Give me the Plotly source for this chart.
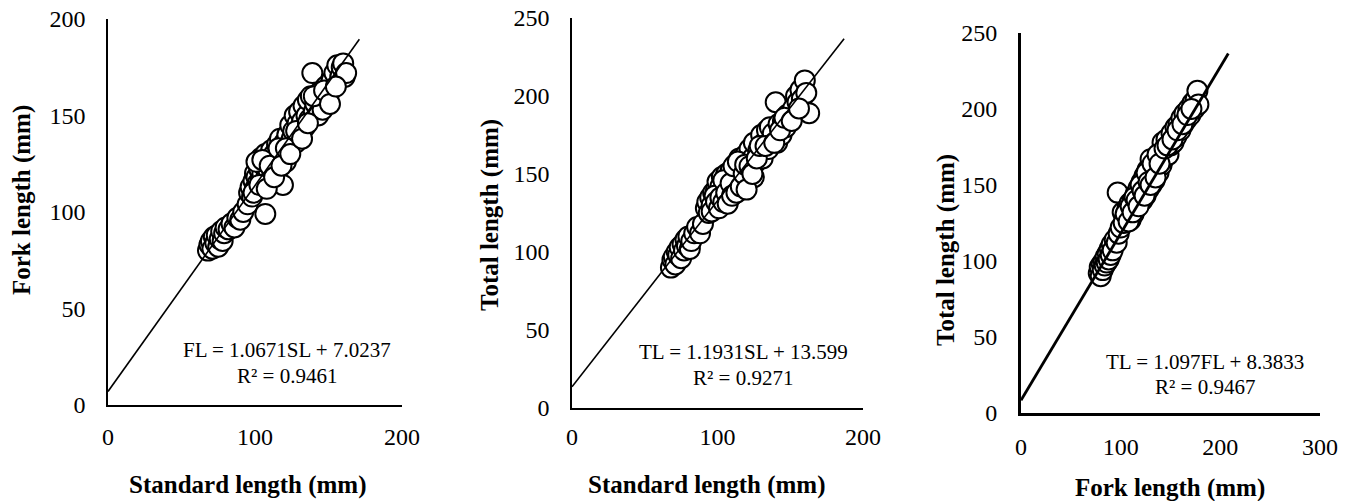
import plotly.graph_objects as go

# page is 1355x501; the html body has an 8px margin, so the figure is drawn
# 8px in from the top-left corner and sized to reach the window's edges
OFF = 8
W, H = 1347, 493

# ---------------- data ----------------
# Panel 1: Standard length (SL) vs Fork length (FL)
sl_1 = [68, 69, 70, 71, 72, 73, 74, 75, 76, 77, 78, 79, 80, 82, 84, 86, 88, 90, 92,
        95, 96, 97, 98, 99, 100, 100, 101, 102, 102, 103, 104, 104, 105, 106, 106, 107, 107,
        108, 108, 109, 110, 110, 111, 112, 112, 113, 114, 115, 115, 116, 117, 118, 119, 120,
        121, 122, 123, 124, 125, 126, 127, 128, 129, 130, 131, 132, 133, 134, 135, 136, 137,
        138, 139, 140, 141, 143, 144, 145, 146, 148, 150, 152, 154, 156, 158, 159, 160, 161, 162,
        99, 101, 103, 105, 108, 110, 113, 116, 118, 121, 124, 128, 132, 136, 140, 147, 151, 155]
fl_1 = [80, 83, 85, 81, 87, 84, 88, 82, 86, 90, 85, 89, 92, 91, 94, 92, 97, 96, 100,
        104, 110, 113, 108, 116, 112, 120, 118, 125, 115, 122, 128, 117, 120, 124, 113, 99, 130,
        119, 126, 122, 128, 116, 132, 124, 120, 130, 126, 135, 122, 128, 138, 132, 114, 136,
        126, 140, 133, 145, 138, 142, 150, 136, 146, 152, 140, 147, 155, 144, 150, 158, 148,
        160, 172, 152, 156, 150, 162, 158, 153, 165, 160, 168, 172, 176, 170, 175, 177, 170, 172,
        110, 126, 114, 127, 112, 124, 118, 133, 124, 133, 130, 142, 138, 146, 160, 163, 156, 165]

# Panel 2: Standard length (SL) vs Total length (TL)
sl_2 = [68, 69, 70, 71, 72, 73, 74, 75, 76, 77, 78, 79, 80, 81, 82, 84, 86, 88, 90,
        92, 93, 94, 95, 96, 97, 98, 99, 100, 100, 101, 102, 103, 103, 104, 105, 105, 106, 107,
        108, 108, 109, 110, 111, 112, 112, 113, 114, 115, 115, 116, 117, 118, 119, 120, 121,
        121, 122, 123, 124, 125, 125, 126, 128, 130, 131, 132, 134, 135, 136, 137, 138, 140,
        141, 142, 144, 145, 147, 148, 150, 152, 154, 155, 157, 158, 160, 161, 163,
        96, 98, 99, 101, 102, 104, 104, 106, 107, 109, 110, 111, 113, 114, 116, 118, 119, 120,
        122, 124, 127, 129, 133, 139, 143, 146, 151, 156]
tl_2 = [90, 95, 97, 92, 100, 98, 103, 96, 105, 101, 108, 104, 110, 102, 107, 112, 116, 112, 118,
        128, 132, 125, 135, 130, 138, 128, 140, 133, 145, 137, 142, 130, 148, 138, 144, 134, 150, 140,
        146, 136, 152, 142, 148, 138, 156, 144, 150, 140, 160, 147, 154, 143, 162, 150, 145,
        158, 166, 152, 160, 148, 170, 157, 165, 175, 160, 170, 178, 166, 180, 172, 176, 196,
        170, 182, 175, 184, 180, 188, 186, 192, 200, 196, 204, 198, 210, 202, 189,
        126, 136, 132, 128, 135, 132, 146, 138, 131, 144, 136, 155, 138, 158, 142, 150, 156, 140,
        155, 150, 160, 168, 168, 170, 178, 186, 184, 192]

# Panel 3: Fork length (FL) vs Total length (TL)
fl_3 = [78, 79, 80, 81, 82, 83, 84, 85, 86, 87, 88, 89, 90, 91, 92, 94, 96, 97, 98, 100,
        102, 104, 106, 107, 108, 109, 110, 111, 112, 113, 114, 115, 116, 117, 118, 119, 120,
        121, 122, 123, 124, 125, 126, 127, 128, 129, 130, 131, 132, 133, 134, 135, 136, 138,
        140, 141, 142, 143, 145, 146, 148, 150, 151, 153, 155, 156, 158, 160, 161, 163, 164,
        166, 168, 170, 172, 174, 175, 177, 178,
        103, 105, 108, 110, 112, 114, 116, 118, 120, 122, 124, 126, 128, 130, 132, 135, 137,
        139, 144, 147, 152, 157, 162, 167, 171]
tl_3 = [92, 96, 90, 98, 94, 100, 97, 103, 99, 105, 101, 108, 104, 111, 107, 114, 112, 145, 118, 122,
        132, 128, 126, 135, 130, 138, 127, 134, 140, 131, 137, 144, 135, 142, 148, 138, 145,
        152, 140, 149, 156, 143, 152, 160, 147, 155, 167, 150, 158, 163, 153, 160, 166, 158,
        170, 163, 178, 167, 172, 180, 170, 176, 184, 178, 188, 182, 190, 186, 194, 190, 197,
        193, 200, 196, 204, 200, 206, 212, 203,
        125, 131, 126, 136, 132, 142, 140, 136, 150, 146, 143, 158, 152, 150, 164, 155, 170,
        164, 174, 176, 180, 186, 190, 196, 200]

# trendlines (Excel linear fit): slope, intercept, x extent
slopes = [1.0671, 1.1931, 1.097]
intercepts = [7.0237, 13.599, 8.3833]
x_ends = [171, 187, 208]
equations = ["FL = 1.0671SL + 7.0237", "TL = 1.1931SL + 13.599", "TL = 1.097FL + 8.3833"]
r2_labels = ["R² = 0.9461", "R² = 0.9271", "R² = 0.9467"]
x_titles = ["Standard length (mm)", "Standard length (mm)", "Fork length (mm)"]
y_titles = ["Fork length (mm)", "Total length (mm)", "Total length (mm)"]
x_ranges = [[0, 200], [0, 200], [0, 300]]
y_ranges = [[0, 200], [0, 250], [0, 250]]
x_dtick = [100, 100, 100]
y_dtick = [50, 50, 50]

# ---------------- layout geometry (page pixels) ----------------
# (left, right, top, bottom) of plotting areas
boxes = [(108, 402, 19, 405), (572, 863, 18, 408), (1021, 1320, 33, 413)]
line_w = [1.6, 1.6, 2.8]
eq_pos = [(287, 350, 376), (743, 352, 378), (1205, 362, 387)]
xt_pos = [(248, 485), (707, 485), (1170, 488)]
yt_pos = [(22, 200), (490, 215), (946, 250)]
x_ticklen = [9, 6, 10]

SERIF = "Liberation Serif, Times New Roman, serif"


def px(x):
    return (x - OFF) / W


def py(y):
    return 1 - (y - OFF) / H


fig = go.Figure()
data = [(sl_1, fl_1), (sl_2, tl_2), (fl_3, tl_3)]
for i, (xs, ys) in enumerate(data):
    xa = "x" if i == 0 else f"x{i+1}"
    ya = "y" if i == 0 else f"y{i+1}"
    fig.add_trace(go.Scatter(
        x=xs, y=ys, mode="markers", xaxis=xa, yaxis=ya, showlegend=False,
        marker=dict(size=20, color="white", line=dict(color="black", width=2)),
    ))
    x0, x1 = 0, x_ends[i]
    fig.add_trace(go.Scatter(
        x=[x0, x1], y=[intercepts[i] + slopes[i] * x0, intercepts[i] + slopes[i] * x1],
        mode="lines", xaxis=xa, yaxis=ya, showlegend=False,
        line=dict(color="black", width=line_w[i]),
    ))

annotations = []
for i in range(3):
    l, r, t, b = boxes[i]
    xkey = "xaxis" if i == 0 else f"xaxis{i+1}"
    ykey = "yaxis" if i == 0 else f"yaxis{i+1}"
    yanchor_name = "y" if i == 0 else f"y{i+1}"
    xanchor_name = "x" if i == 0 else f"x{i+1}"
    fig.layout[xkey] = dict(
        domain=[px(l), px(r)], range=x_ranges[i], dtick=x_dtick[i], tick0=0,
        anchor=yanchor_name, showgrid=False, zeroline=False, automargin=False,
        showline=True, linecolor="black", linewidth=line_w[i],
        ticks="outside", ticklen=x_ticklen[i], tickcolor="rgba(0,0,0,0)",
        ticklabeloverflow="allow",
        tickfont=dict(family=SERIF, size=24, color="black"),
    )
    fig.layout[ykey] = dict(
        domain=[py(b), py(t)], range=y_ranges[i], dtick=y_dtick[i], tick0=0,
        anchor=xanchor_name, showgrid=False, zeroline=False, automargin=False,
        showline=True, linecolor="black", linewidth=line_w[i],
        ticks="outside", ticklen=16, tickcolor="rgba(0,0,0,0)",
        ticklabeloverflow="allow",
        tickfont=dict(family=SERIF, size=24, color="black"),
    )
    ex, ey1, ey2 = eq_pos[i]
    common = dict(xref="paper", yref="paper", showarrow=False,
                  xanchor="center", yanchor="middle")
    annotations.append(dict(x=px(ex), y=py(ey1), text=equations[i],
                            font=dict(family=SERIF, size=21, color="black"), **common))
    annotations.append(dict(x=px(ex), y=py(ey2), text=r2_labels[i],
                            font=dict(family=SERIF, size=21, color="black"), **common))
    tx, ty = xt_pos[i]
    annotations.append(dict(x=px(tx), y=py(ty), text="<b>" + x_titles[i] + "</b>",
                            font=dict(family=SERIF, size=25, color="black"), **common))
    yx, yy = yt_pos[i]
    annotations.append(dict(x=px(yx), y=py(yy), text="<b>" + y_titles[i] + "</b>", textangle=-90,
                            font=dict(family=SERIF, size=25, color="black"), **common))

fig.update_layout(
    width=W, height=H, margin=dict(l=0, r=0, t=0, b=0),
    paper_bgcolor="white", plot_bgcolor="white",
    annotations=annotations,
)

fig.write_html("out.html")
